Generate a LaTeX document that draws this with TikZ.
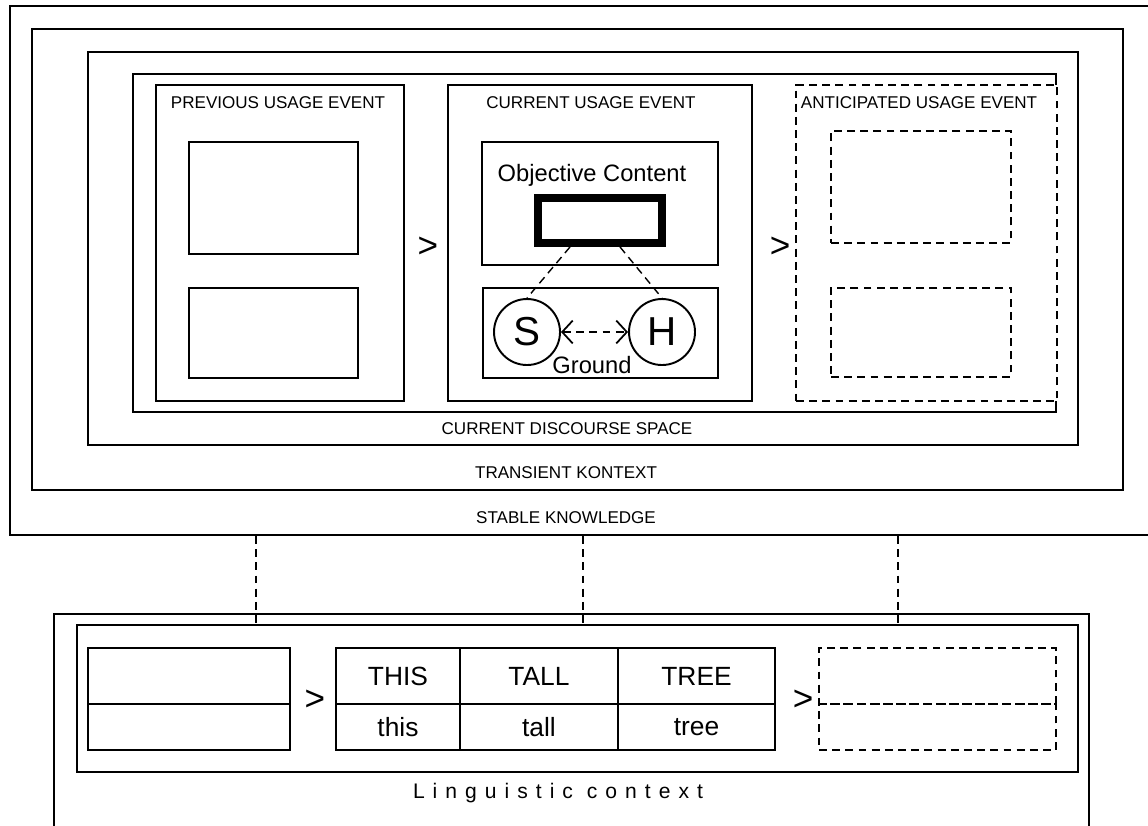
\documentclass[tikz,border=0pt]{standalone}
\usepackage{fontspec}
\setmainfont{Liberation Sans}
\usetikzlibrary{arrows.meta,positioning}

\tikzset{
  box/.style={draw, rectangle, line width=1.1pt, inner sep=0pt},
  dbox/.style={box, dash pattern=on 4.5pt off 3pt},
  lbl/.style={font=\fontsize{9.7}{11}\selectfont, inner sep=1pt},
  gt/.style={font=\fontsize{20}{22}\selectfont, inner sep=0pt},
  cell/.style={box, font=\fontsize{15}{17}\selectfont},
  link/.style={line width=0.8pt, dash pattern=on 4.5pt off 3pt}
}

\begin{document}
\begin{tikzpicture}
  \useasboundingbox (0,0) rectangle (22.96,-16.5);
  % nested contexts
  \node[box, minimum width=23cm, minimum height=10.58cm] (stable) at (11.7,-5.41) {};
  \node[box, minimum width=21.82cm, minimum height=9.22cm] (transient) at (11.55,-5.19) {};
  \node[box, minimum width=19.8cm, minimum height=7.86cm] (cds) at (11.66,-4.97) {};
  \node[box, minimum width=18.46cm, minimum height=6.76cm] (events) at (11.89,-4.86) {};
  \node[lbl] (stablelbl) at (11.32,-10.36) {STABLE KNOWLEDGE};
  \node[lbl] (translbl) at (11.32,-9.46) {TRANSIENT KONTEXT};
  \node[lbl] (cdslbl) at (11.34,-8.58) {CURRENT DISCOURSE SPACE};

  % previous usage event
  \node[box, minimum width=4.96cm, minimum height=6.32cm] (prev) at (5.6,-4.86) {};
  \node[lbl] (prevlbl) at (5.56,-2.06) {PREVIOUS USAGE EVENT};
  \node[box, minimum width=3.38cm, minimum height=2.24cm] (prevtop) at (5.47,-3.96) {};
  \node[box, minimum width=3.38cm, minimum height=1.8cm] (prevbot) at (5.47,-6.66) {};
  \node[gt] (gt1) at (8.56,-4.94) {>};

  % current usage event
  \node[box, minimum width=6.08cm, minimum height=6.32cm] (cur) at (12.0,-4.86) {};
  \node[lbl] (curlbl) at (11.82,-2.06) {CURRENT USAGE EVENT};
  \node[box, minimum width=4.72cm, minimum height=2.46cm] (objbox) at (12.0,-4.07) {};
  \node[font=\fontsize{13.5}{15}\selectfont] (objlbl) at (11.84,-3.5) {Objective Content};
  \node[draw, line width=4.5pt, minimum width=2.48cm, minimum height=0.9cm, inner sep=0pt] (obj) at (12.0,-4.41) {};
  \node[box, minimum width=4.7cm, minimum height=1.8cm] (ground) at (12.01,-6.66) {};
  \node[draw, circle, line width=1.1pt, minimum size=1.32cm, inner sep=0pt,
        font=\fontsize{23}{25}\selectfont] (S) at (10.54,-6.64) {S};
  \node[draw, circle, line width=1.1pt, minimum size=1.32cm, inner sep=0pt,
        font=\fontsize{23}{25}\selectfont] (H) at (13.24,-6.64) {H};
  \node[font=\fontsize{13.5}{15}\selectfont] (groundlbl) at (11.84,-7.3) {Ground};
  \draw[link] ([xshift=-0.6cm]obj.south) -- (S.north);
  \draw[link] ([xshift=0.4cm]obj.south) -- (H.north);
  \draw[link, line width=1pt, {Straight Barb[length=6pt,width=13pt]}-{Straight Barb[length=6pt,width=13pt]}] (S) -- (H);
  \node[gt] (gt2) at (15.6,-4.94) {>};

  % anticipated usage event
  \node[dbox, fill=white, minimum width=5.22cm, minimum height=6.32cm] (ant) at (18.53,-4.86) {};
  \node[lbl] (antlbl) at (18.38,-2.06) {ANTICIPATED USAGE EVENT};
  \node[dbox, minimum width=3.6cm, minimum height=2.24cm] (anttop) at (18.42,-3.74) {};
  \node[dbox, minimum width=3.6cm, minimum height=1.78cm] (antbot) at (18.42,-6.65) {};

  % linguistic context
  \node[box, minimum width=20.7cm, minimum height=4.72cm] (ling) at (11.43,-14.64) {};
  \node[box, minimum width=20.02cm, minimum height=2.94cm] (lingin) at (11.55,-13.97) {};
  \node[font=\fontsize{12}{14}\selectfont\addfontfeature{LetterSpace=38}] (linglbl) at (11.16,-15.86) {Linguistic context};

  \node[box, minimum width=4.04cm, minimum height=1.12cm] (p1) at (3.78,-13.52) {};
  \node[box, minimum width=4.04cm, minimum height=0.92cm] (p2) at (3.78,-14.54) {};
  \node[gt] (gt3) at (6.3,-14.0) {>};

  \node[cell, minimum width=2.48cm, minimum height=1.12cm] (c1) at (7.96,-13.52) {THIS};
  \node[cell, minimum width=3.16cm, minimum height=1.12cm] (c2) at (10.78,-13.52) {TALL};
  \node[cell, minimum width=3.14cm, minimum height=1.12cm] (c3) at (13.93,-13.52) {TREE};
  \node[cell, minimum width=2.48cm, minimum height=0.92cm] (w1) at (7.96,-14.54) {this};
  \node[cell, minimum width=3.16cm, minimum height=0.92cm] (w2) at (10.78,-14.54) {tall};
  \node[cell, minimum width=3.14cm, minimum height=0.92cm] (w3) at (13.93,-14.54) {tree};
  \node[gt] (gt4) at (16.06,-14.0) {>};

  \node[dbox, minimum width=4.74cm, minimum height=1.12cm] (n1) at (18.75,-13.52) {};
  \node[dbox, minimum width=4.74cm, minimum height=0.92cm] (n2) at (18.75,-14.54) {};

  % links between the two layers
  \coordinate (l1) at (5.12,0);
  \coordinate (l2) at (11.66,0);
  \coordinate (l3) at (17.96,0);
  \foreach \l in {l1,l2,l3}
    \draw[link] (\l |- stable.south) -- (\l |- lingin.north);
\end{tikzpicture}
\end{document}
